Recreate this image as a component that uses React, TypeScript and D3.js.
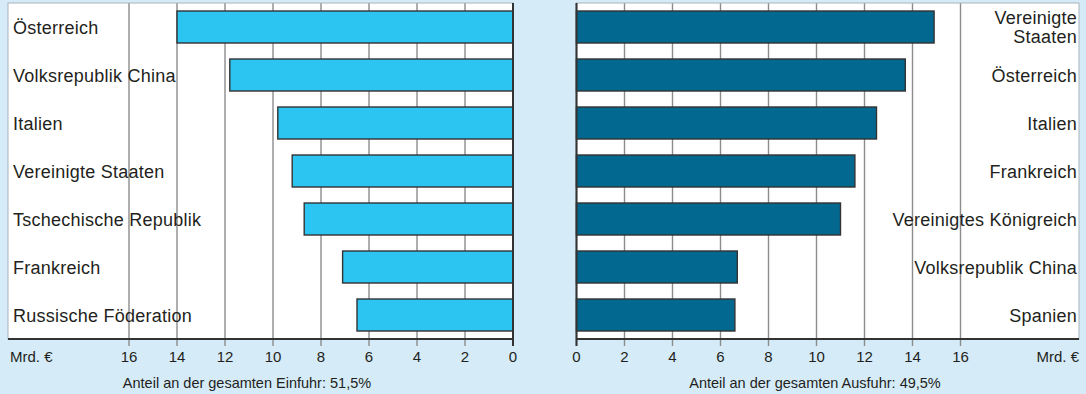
import React from "react";
import * as d3 from "d3";

// Import partners (left panel) and export partners (right panel), billions of euros
const importCountries = [
  "Österreich",
  "Volksrepublik China",
  "Italien",
  "Vereinigte Staaten",
  "Tschechische Republik",
  "Frankreich",
  "Russische Föderation",
];
const importValues = [14.0, 11.8, 9.8, 9.2, 8.7, 7.1, 6.5];

const exportCountries = [
  "Vereinigte\nStaaten",
  "Österreich",
  "Italien",
  "Frankreich",
  "Vereinigtes Königreich",
  "Volksrepublik China",
  "Spanien",
];
const exportValues = [14.9, 13.7, 12.5, 11.6, 11.0, 6.7, 6.6];

const tickValues = [0, 2, 4, 6, 8, 10, 12, 14, 16];
const unitLabel = "Mrd. €";
const importCaption = "Anteil an der gesamten Einfuhr: 51,5%";
const exportCaption = "Anteil an der gesamten Ausfuhr: 49,5%";

const W = 1086;
const H = 394;
const FONT = "'Liberation Sans', Arial, Helvetica, sans-serif";
const BG = "#d5ebf8";
const TEXT = "#231f20";
const GRID = "#8c8c8c";
const DARK = "#333333";

const plotTop = 3;
const plotBottom = 339;

const leftBox = { x0: 8, x1: 513 };
const rightBox = { x0: 576.5, x1: 1079 };

const xLeft = d3.scaleLinear().domain([0, 16]).range([513, 129]);
const xRight = d3.scaleLinear().domain([0, 16]).range([576.5, 960.5]);

const yBand = d3
  .scaleBand<number>()
  .domain(d3.range(7))
  .range([plotTop, plotBottom])
  .paddingInner(1 / 3)
  .paddingOuter(1 / 6);

type PanelProps = {
  side: "left" | "right";
  x: d3.ScaleLinear<number, number>;
  box: { x0: number; x1: number };
  labels: string[];
  values: number[];
  fill: string;
  caption: string;
  captionX: number;
};

function Panel({ side, x, box, labels, values, fill, caption, captionX }: PanelProps) {
  const zero = x(0);
  const bw = yBand.bandwidth();
  const labelX = side === "left" ? 13 : 1077;
  return (
    <g>
      <rect x={box.x0} y={plotTop} width={box.x1 - box.x0} height={plotBottom - plotTop} fill="#ffffff" />
      {/* grid lines continue below the axis as tick marks */}
      {tickValues.map((t) => (
        <line
          key={"g" + t}
          x1={x(t)}
          x2={x(t)}
          y1={plotTop}
          y2={plotBottom + 7}
          stroke={GRID}
          strokeWidth={1.4}
        />
      ))}
      <rect
        x={box.x0}
        y={plotTop}
        width={box.x1 - box.x0}
        height={plotBottom - plotTop}
        fill="none"
        stroke="#a9b3bb"
        strokeWidth={1}
      />
      {values.map((v, i) => {
        const y = yBand(i) as number;
        const x0 = Math.min(zero, x(v));
        const w = Math.abs(x(v) - zero);
        return (
          <rect key={"b" + i} x={x0} y={y} width={w} height={bw} fill={fill} stroke={DARK} strokeWidth={1.4} />
        );
      })}
      {/* zero line */}
      <line x1={zero} x2={zero} y1={plotTop} y2={plotBottom + 7} stroke={DARK} strokeWidth={2} />
      {/* bottom axis */}
      <line x1={box.x0} x2={box.x1} y1={plotBottom} y2={plotBottom} stroke={DARK} strokeWidth={2} />
      {tickValues.map((t) => (
        <text
          key={"t" + t}
          x={x(t)}
          y={362}
          textAnchor="middle"
          fontSize={15}
          fontFamily={FONT}
          fill={TEXT}
        >
          {t}
        </text>
      ))}
      <text
        x={side === "left" ? 10 : 1079}
        y={362}
        textAnchor={side === "left" ? "start" : "end"}
        fontSize={15}
        fontFamily={FONT}
        fill={TEXT}
      >
        {unitLabel}
      </text>
      <text x={captionX} y={388} textAnchor="middle" fontSize={14.5} fontFamily={FONT} fill={TEXT}>
        {caption}
      </text>
      {labels.map((lab, i) => {
        const cy = (yBand(i) as number) + bw / 2;
        const lines = lab.split("\n");
        const lh = 19;
        return (
          <text
            key={"l" + i}
            x={labelX}
            textAnchor={side === "left" ? "start" : "end"}
            fontSize={18}
            letterSpacing={0.25}
            fontFamily={FONT}
            fill={TEXT}
          >
            {lines.map((ln, j) => (
              <tspan key={j} x={labelX} y={cy + 6.5 + (j - (lines.length - 1) / 2) * lh}>
                {ln}
              </tspan>
            ))}
          </text>
        );
      })}
    </g>
  );
}

export default function App() {
  return (
    <svg
      width={W}
      height={H}
      viewBox={`0 0 ${W} ${H}`}
      style={{ position: "absolute", left: 0, top: 0, display: "block" }}
    >
      <rect x={0} y={0} width={W} height={H} fill={BG} />
      <Panel
        side="left"
        x={xLeft}
        box={leftBox}
        labels={importCountries}
        values={importValues}
        fill="#2cc4f1"
        caption={importCaption}
        captionX={247}
      />
      <Panel
        side="right"
        x={xRight}
        box={rightBox}
        labels={exportCountries}
        values={exportValues}
        fill="#026890"
        caption={exportCaption}
        captionX={815}
      />
    </svg>
  );
}
